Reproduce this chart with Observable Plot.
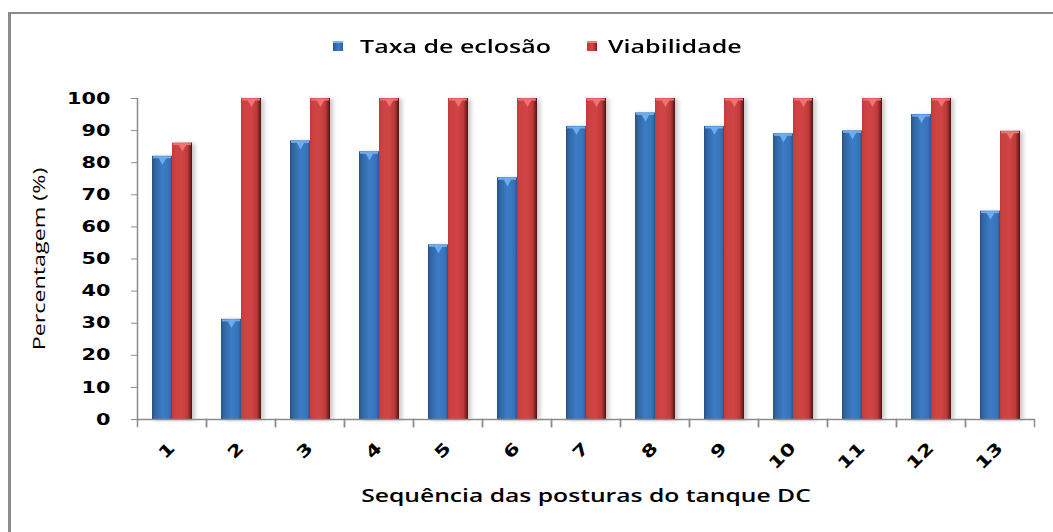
<!DOCTYPE html>
<html>
<head>
<meta charset="utf-8">
<script src="https://cdn.jsdelivr.net/npm/d3@7"></script>
<script src="https://cdn.jsdelivr.net/npm/@observablehq/plot@0.6"></script>
<style>
  html, body { margin: 0; padding: 0; background: #fff; }
  #wrap { position: relative; width: 1053px; height: 532px; overflow: hidden; background: #fff; }
  #border { position: absolute; left: 8px; top: 12px; width: 1100px; height: 600px;
            border-left: 3px solid #8c8c8c; border-top: 2px solid #8c8c8c; }
  #legend { position: relative; height: 80px; }
  .sw { position: absolute; width: 10px; height: 10px; top: 41px; }
  .lt { position: absolute; display: inline-block; top: 34px; font-family: "Open Sans"; font-weight: 600; font-size: 18px;
        color: #000; transform-origin: 0 50%; white-space: nowrap; }
  #chart { position: relative; }
</style>
</head>
<body>
<div id="wrap">
  <div id="border"></div>
  <div id="legend"></div>
  <div id="chart"></div>
</div>
<script>
// ---- data ----
const postures = ["1","2","3","4","5","6","7","8","9","10","11","12","13"];
const seriesNames = ["Taxa de eclosão", "Viabilidade"];
const taxaEclosao = [82.0, 31.2, 86.8, 83.4, 54.4, 75.3, 91.3, 95.5, 91.3, 89.0, 89.9, 95.0, 64.9];
const viabilidade = [86.1, 100, 100, 100, 100, 100, 100, 100, 100, 100, 100, 100, 89.8];
const yTicks = [0, 10, 20, 30, 40, 50, 60, 70, 80, 90, 100];
const xTitle = "Sequência das posturas do tanque DC";
const yTitle = "Percentagem (%)";

const rows = postures.flatMap((p, i) => [
  {posture: p, serie: seriesNames[0], value: taxaEclosao[i]},
  {posture: p, serie: seriesNames[1], value: viabilidade[i]}
]);
const blueRows = rows.filter(d => d.serie === seriesNames[0]);
const redRows = rows.filter(d => d.serie === seriesNames[1]);

const STRETCH = 1.3;        // tick labels
const TITLE_STRETCH = 1.37; // axis titles
const LEGEND_STRETCH = 1.39;
const axisGray = "#8c8c8c";

// ---- legend (HTML, above the SVG) ----
const legend = document.getElementById("legend");
const legendItems = [
  {name: seriesNames[0], sw: 333, tx: 360, grad: "linear-gradient(to right,#2b5690,#3d7dc9 55%,#2f62a2)", cap: "#74b6f2"},
  {name: seriesNames[1], sw: 587, tx: 608, grad: "linear-gradient(to right,#c03a3a,#d24545 55%,#7a2020)", cap: "#f27a7a"}
];
for (const it of legendItems) {
  const s = document.createElement("span");
  s.className = "sw";
  s.style.left = it.sw + "px";
  s.style.background = it.grad;
  s.style.boxShadow = `inset 0 2px 0 ${it.cap}`;
  legend.appendChild(s);
  const t = document.createElement("span");
  t.className = "lt";
  t.style.left = it.tx + "px";
  t.style.transform = `scaleX(${LEGEND_STRETCH})`;
  t.textContent = it.name;
  legend.appendChild(t);
}

// ---- chart ----
const chart = Plot.plot({
  width: 1053,
  height: 452,
  marginTop: 18,
  marginBottom: 113,
  marginLeft: 137,
  marginRight: 19,
  style: {fontFamily: "DejaVu Sans", background: "transparent", overflow: "visible", color: "#000"},
  fx: {domain: postures, padding: 0, label: null},
  x: {domain: seriesNames, paddingInner: 0, paddingOuter: 0.68, axis: null},
  y: {domain: [0, 100], axis: null},
  marks: [
    // bars
    Plot.barY(blueRows, {fx: "posture", x: "serie", y: "value", fill: "url(#gBlue)", className: "bars"}),
    Plot.barY(redRows, {fx: "posture", x: "serie", y: "value", fill: "url(#gRed)", className: "bars"}),
    // bar caps
    Plot.tickY(blueRows, {fx: "posture", x: "serie", y: "value", stroke: "#6aaeee", strokeWidth: 2, dy: 1, insetLeft: 1, insetRight: 1}),
    Plot.tickY(redRows, {fx: "posture", x: "serie", y: "value", stroke: "#ef7373", strokeWidth: 2, dy: 1, insetLeft: 1, insetRight: 1}),
    Plot.dot(blueRows, {fx: "posture", x: "serie", y: "value", symbol: "triangle", rotate: 180, r: 3.5, fill: "#6aaeee", stroke: null, dy: 3}),
    Plot.dot(redRows, {fx: "posture", x: "serie", y: "value", symbol: "triangle", rotate: 180, r: 3.5, fill: "#ef7373", stroke: null, dy: 3}),
    // axes lines and ticks
    Plot.ruleY([0], {stroke: axisGray, strokeWidth: 1.5}),
    Plot.frame({anchor: "left", facetAnchor: "left", stroke: axisGray, strokeWidth: 1.5}),
    Plot.frame({anchor: "left", stroke: axisGray, strokeWidth: 1.5, insetTop: 321, insetBottom: -7}),
    Plot.frame({anchor: "right", stroke: axisGray, strokeWidth: 1.5, insetTop: 321, insetBottom: -7}),
    Plot.axisY({ticks: yTicks, tickSize: 6, tickPadding: 21, stroke: axisGray, fill: "#000",
                fontWeight: "bold", fontSize: 16, label: null}),
    Plot.axisFx({anchor: "bottom", tickSize: 0, tickPadding: 26, tickRotate: -45,
                 fontWeight: "bold", fontSize: 16.5, fill: "#000", label: null}),
    // titles
    Plot.text([{p: postures[Math.floor(postures.length / 2)]}], {
      fx: "p", text: () => xTitle, frameAnchor: "bottom", lineAnchor: "middle", dy: 77,
      fontFamily: "Open Sans", fontWeight: 600, fontSize: 18, fill: "#000", className: "title"
    }),
    Plot.text([{p: postures[0]}], {
      fx: "p", text: () => yTitle, frameAnchor: "left", textAnchor: "middle", lineAnchor: "middle",
      rotate: -90, dx: -98, fontFamily: "Open Sans", fontWeight: 400, fontSize: 17, fill: "#000", className: "title"
    })
  ]
});

const svg = chart.tagName.toLowerCase() === "svg" ? chart : chart.querySelector("svg");
document.getElementById("chart").appendChild(chart);

// gradients for the glossy bars
const ns = "http://www.w3.org/2000/svg";
const defs = document.createElementNS(ns, "defs");
function addGrad(id, stops) {
  const g = document.createElementNS(ns, "linearGradient");
  g.setAttribute("id", id);
  g.setAttribute("x1", "0"); g.setAttribute("x2", "1"); g.setAttribute("y1", "0"); g.setAttribute("y2", "0");
  for (const [o, c] of stops) {
    const s = document.createElementNS(ns, "stop");
    s.setAttribute("offset", o); s.setAttribute("stop-color", c);
    g.appendChild(s);
  }
  defs.appendChild(g);
}
addGrad("gBlue", [["0", "#284f85"], ["0.12", "#30649f"], ["0.5", "#3c7bc6"], ["0.85", "#3874bc"], ["1", "#2a5892"]]);
addGrad("gRed", [["0", "#c13b3b"], ["0.15", "#cc4242"], ["0.5", "#d04444"], ["0.78", "#bd3a3a"], ["0.9", "#842424"], ["1", "#4a1212"]]);
svg.insertBefore(defs, svg.firstChild);

svg.querySelectorAll("g.bars, g[class*='bars']").forEach(g => {
  g.style.filter = "drop-shadow(3px 1px 2px rgba(0,0,0,0.22))";
});

// stretch text along its direction, as in the reference
svg.querySelectorAll("text").forEach(t => {
  const L = t.getComputedTextLength();
  if (L > 0) {
    const isTitle = !!t.closest("g.title, g[class*='title']");
    t.setAttribute("textLength", (L * (isTitle ? TITLE_STRETCH : STRETCH)).toFixed(1));
    t.setAttribute("lengthAdjust", "spacingAndGlyphs");
  }
});
</script>
</body>
</html>
